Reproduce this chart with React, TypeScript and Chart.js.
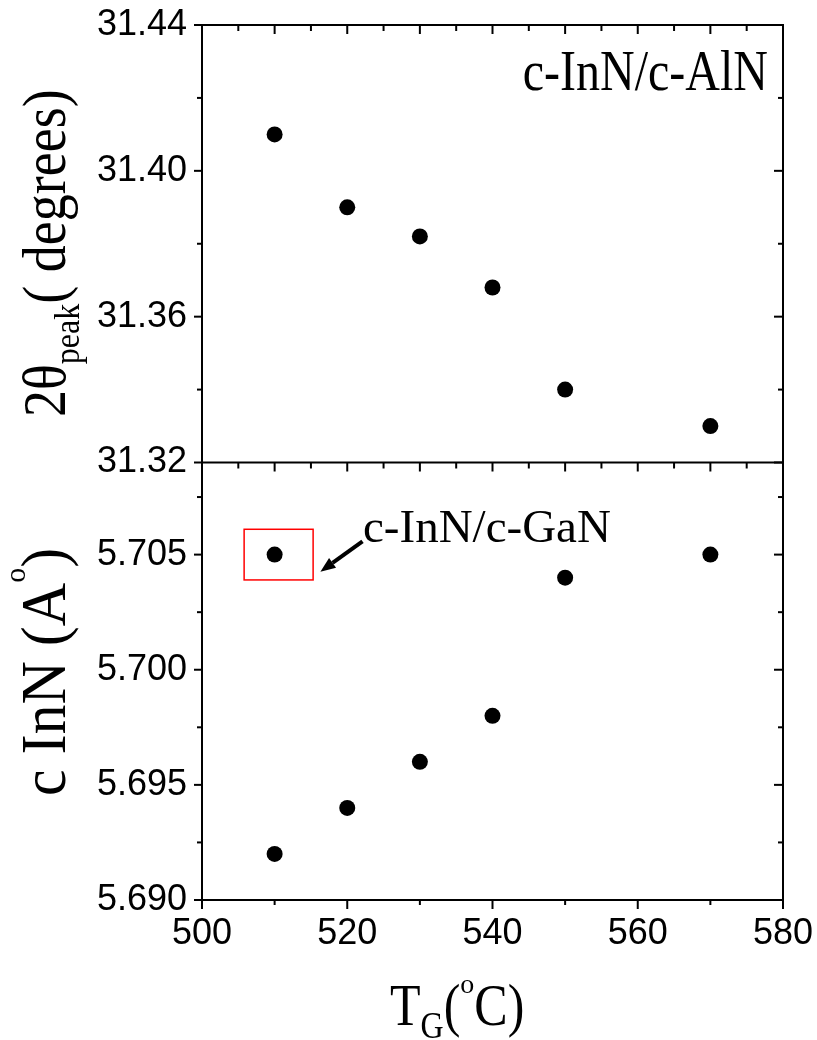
import React, { useEffect, useRef } from "react";
import { Chart, registerables } from "chart.js";

Chart.register(...registerables);

// ---- data ----
const temperatures = [510, 520, 530, 540, 550, 570];
const peakAlN = [31.41, 31.39, 31.382, 31.368, 31.34, 31.33];
const latticeInN = [5.692, 5.694, 5.696, 5.698, 5.704, 5.705];
const gaNTemps = [510];
const gaNLattice = [5.705];

// ---- ticks ----
const xTickLabels = [500, 520, 540, 560, 580];
const xMinorTicks = [510, 530, 550, 570];
const xEdgeTicks = [505, 510, 515, 520, 525, 530, 535, 540, 545, 550, 555, 560, 565, 570, 575];
const topYTicks = [31.32, 31.36, 31.4, 31.44];
const topYMinor = [31.34, 31.38, 31.42];
const botYTicks = [5.69, 5.695, 5.7, 5.705];
const botYMinor = [5.6925, 5.6975, 5.7025, 5.7075];

const SANS = "'Liberation Sans', Arial, sans-serif";
const SERIF = "'Liberation Serif', 'Times New Roman', serif";

type Seg = { t: string; size: number; dy?: number; sy?: number };

function drawRich(
  ctx: CanvasRenderingContext2D,
  segs: Seg[],
  x: number,
  y: number,
  sy: number,
  rotate: boolean,
  align: "left" | "right" | "center"
) {
  ctx.save();
  ctx.fillStyle = "#000";
  ctx.textBaseline = "alphabetic";
  ctx.textAlign = "left";
  let total = 0;
  const widths = segs.map((s) => {
    ctx.font = `${s.size}px ${SERIF}`;
    const w = ctx.measureText(s.t).width;
    total += w;
    return w;
  });
  ctx.translate(x, y);
  if (rotate) ctx.rotate(-Math.PI / 2);
  let cx = align === "right" ? -total : align === "center" ? -total / 2 : 0;
  segs.forEach((s, i) => {
    const k = s.sy ?? sy;
    ctx.save();
    ctx.translate(cx, s.dy || 0);
    ctx.scale(1, k);
    ctx.font = `${s.size}px ${SERIF}`;
    ctx.fillText(s.t, 0, 0);
    ctx.restore();
    cx += widths[i];
  });
  ctx.restore();
}

const framePlugin = {
  id: "framePlugin",
  afterDraw(chart: any) {
    const { ctx, chartArea } = chart;
    const { left, right, top, bottom } = chartArea;
    const sx = chart.scales.x;
    const yT = chart.scales.yTop;
    const yB = chart.scales.yBot;
    const mid = yT.bottom;

    ctx.save();
    ctx.strokeStyle = "#000";
    ctx.lineWidth = 2;
    ctx.lineCap = "square";
    const line = (x1: number, y1: number, x2: number, y2: number) => {
      ctx.beginPath();
      ctx.moveTo(x1, y1);
      ctx.lineTo(x2, y2);
      ctx.stroke();
    };
    // frame
    line(left, top, right, top);
    line(left, bottom, right, bottom);
    line(left, top, left, bottom);
    line(right, top, right, bottom);
    line(left, mid, right, mid);

    ctx.lineCap = "butt";
    // left / right y ticks
    const yTicks = (scale: any, majors: number[], minors: number[]) => {
      majors.forEach((v) => {
        const p = scale.getPixelForValue(v);
        line(left - 8, p, left, p);
        line(right, p, right - 9, p);
      });
      minors.forEach((v) => {
        const p = scale.getPixelForValue(v);
        line(left - 5, p, left, p);
        line(right, p, right - 5, p);
      });
    };
    yTicks(yT, topYTicks, topYMinor);
    yTicks(yB, botYTicks, botYMinor);

    // bottom x ticks (outward)
    xTickLabels.forEach((v) => {
      const p = sx.getPixelForValue(v);
      line(p, bottom, p, bottom + 9);
    });
    xMinorTicks.forEach((v) => {
      const p = sx.getPixelForValue(v);
      line(p, bottom, p, bottom + 5);
    });
    // top edge and middle edge ticks (pointing down)
    xEdgeTicks.forEach((v) => {
      const p = sx.getPixelForValue(v);
      const len = v % 10 === 0 ? 9 : 6;
      line(p, top, p, top + len);
      line(p, mid, p, mid + len);
    });

    // red box around the c-GaN reference point
    ctx.strokeStyle = "#ff0000";
    ctx.lineWidth = 1.5;
    const bx1 = sx.getPixelForValue(505.8);
    const bx2 = sx.getPixelForValue(515.3);
    const by1 = yB.getPixelForValue(5.7061);
    const by2 = yB.getPixelForValue(5.7039);
    ctx.strokeRect(bx1, by1, bx2 - bx1, by2 - by1);

    // arrow
    const ax1 = sx.getPixelForValue(522.1);
    const ay1 = yB.getPixelForValue(5.70557);
    const ax2 = sx.getPixelForValue(516.3);
    const ay2 = yB.getPixelForValue(5.70426);
    const ang = Math.atan2(ay2 - ay1, ax2 - ax1);
    const headLen = 15;
    const headW = 6;
    const bxh = ax2 - headLen * Math.cos(ang);
    const byh = ay2 - headLen * Math.sin(ang);
    ctx.strokeStyle = "#000";
    ctx.fillStyle = "#000";
    ctx.lineWidth = 4;
    line(ax1, ay1, bxh, byh);
    ctx.beginPath();
    ctx.moveTo(ax2, ay2);
    ctx.lineTo(bxh + headW * Math.sin(ang), byh - headW * Math.cos(ang));
    ctx.lineTo(bxh - headW * Math.sin(ang), byh + headW * Math.cos(ang));
    ctx.closePath();
    ctx.fill();
    ctx.restore();

    // texts
    drawRich(ctx, [{ t: "c-InN/c-AlN", size: 48 }], 768, 90, 1.2, false, "right");
    drawRich(ctx, [{ t: "c-InN/c-GaN", size: 47 }], 363, 542, 1.0, false, "left");
    drawRich(
      ctx,
      [
        { t: "2θ", size: 54 },
        { t: "peak", size: 32, dy: 14 },
        { t: "( degrees)", size: 54 },
      ],
      65,
      417,
      1.15,
      true,
      "left"
    );
    drawRich(
      ctx,
      [
        { t: "c InN (A", size: 60 },
        { t: "o", size: 30, dy: -40, sy: 1.0 },
        { t: ")", size: 60 },
      ],
      65,
      672,
      1.05,
      true,
      "center"
    );
    drawRich(
      ctx,
      [
        { t: "T", size: 50 },
        { t: "G", size: 32, dy: 13 },
        { t: "(", size: 50 },
        { t: "o", size: 28, dy: -32, sy: 1.0 },
        { t: "C)", size: 50 },
      ],
      390,
      1025,
      1.2,
      false,
      "left"
    );
  },
};

const zeroPad = (s: any) => {
  s.paddingTop = 0;
  s.paddingBottom = 0;
  s.paddingLeft = 0;
  s.paddingRight = 0;
};

export default function App() {
  const ref = useRef<HTMLCanvasElement | null>(null);

  useEffect(() => {
    if (!ref.current) return;
    const tickFont = { family: SANS, size: 36 };
    const chart = new Chart(ref.current, {
      type: "scatter",
      data: {
        datasets: [
          {
            data: temperatures.map((t, i) => ({ x: t, y: peakAlN[i] })),
            yAxisID: "yTop",
            backgroundColor: "#000",
            borderWidth: 0,
            pointRadius: 8,
          },
          {
            data: temperatures.map((t, i) => ({ x: t, y: latticeInN[i] })),
            yAxisID: "yBot",
            backgroundColor: "#000",
            borderWidth: 0,
            pointRadius: 8,
          },
          {
            data: gaNTemps.map((t, i) => ({ x: t, y: gaNLattice[i] })),
            yAxisID: "yBot",
            backgroundColor: "#000",
            borderWidth: 0,
            pointRadius: 8,
          },
        ],
      },
      options: {
        responsive: false,
        maintainAspectRatio: false,
        animation: false,
        devicePixelRatio: 1,
        layout: { padding: { top: 25, right: 34, bottom: 0, left: 0 } },
        plugins: { legend: { display: false }, tooltip: { enabled: false } },
        scales: {
          x: {
            type: "linear",
            position: "bottom",
            min: 500,
            max: 580,
            grid: { display: false, drawTicks: false },
            border: { display: false },
            ticks: {
              font: tickFont,
              color: "#000",
              padding: 12,
              maxRotation: 0,
              autoSkip: false,
              callback: (v: any) => String(v),
            },
            afterBuildTicks: (s: any) => {
              s.ticks = xTickLabels.map((v) => ({ value: v }));
            },
            afterFit: (s: any) => {
              s.height = 140;
              zeroPad(s);
            },
          },
          yTop: {
            type: "linear",
            position: "left",
            stack: "panels",
            stackWeight: 1,
            weight: 2,
            min: 31.32,
            max: 31.44,
            grid: { display: false, drawTicks: false },
            border: { display: false },
            ticks: {
              font: tickFont,
              color: "#000",
              padding: 15,
              autoSkip: false,
              callback: (v: any) => Number(v).toFixed(2),
            },
            afterBuildTicks: (s: any) => {
              s.ticks = topYTicks.map((v) => ({ value: v }));
            },
            afterFit: (s: any) => {
              s.width = 202;
              zeroPad(s);
            },
          },
          yBot: {
            type: "linear",
            position: "left",
            stack: "panels",
            stackWeight: 1,
            weight: 1,
            min: 5.69,
            max: 5.709,
            grid: { display: false, drawTicks: false },
            border: { display: false },
            ticks: {
              font: tickFont,
              color: "#000",
              padding: 15,
              autoSkip: false,
              callback: (v: any) => Number(v).toFixed(3),
            },
            afterBuildTicks: (s: any) => {
              s.ticks = botYTicks.map((v) => ({ value: v }));
            },
            afterFit: (s: any) => {
              s.width = 202;
              zeroPad(s);
            },
          },
        },
      } as any,
      plugins: [framePlugin],
    });
    return () => chart.destroy();
  }, []);

  return (
    <div style={{ position: "absolute", left: 0, top: 0, width: 817, height: 1040, background: "#fff" }}>
      <canvas ref={ref} width={817} height={1040} style={{ display: "block", width: 817, height: 1040 }} />
    </div>
  );
}
